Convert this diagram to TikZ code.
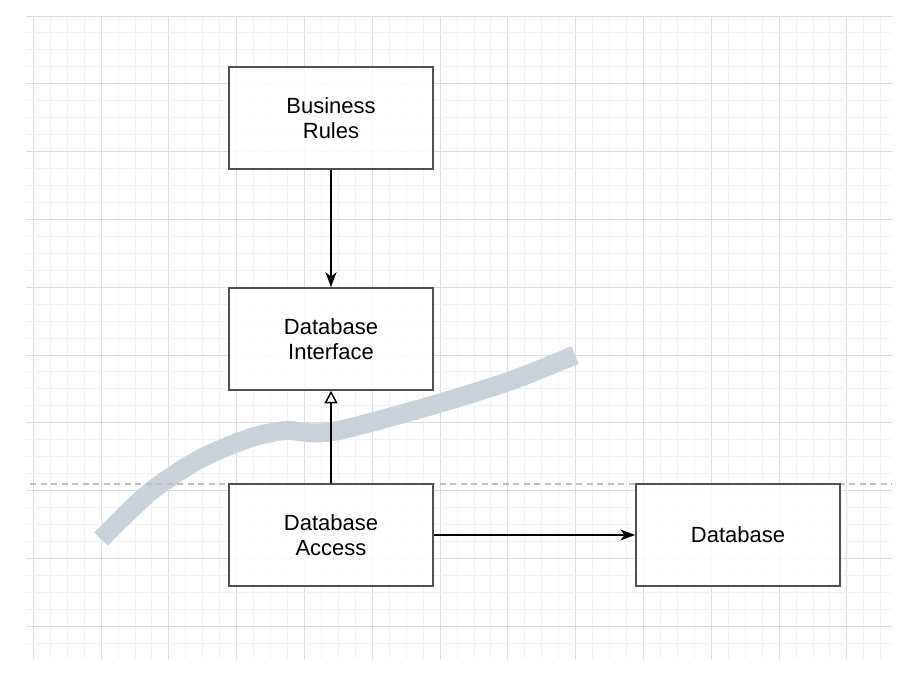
\documentclass[tikz,border=0pt]{standalone}
\usepackage{fontspec}
\setmainfont{Liberation Sans}
\usetikzlibrary{arrows.meta}
\definecolor{gridmajor}{RGB}{220,220,220}
\definecolor{gridminor}{RGB}{242,242,242}
\definecolor{boxline}{RGB}{80,80,80}
\definecolor{bandcol}{RGB}{201,209,219}
\definecolor{dashcol}{RGB}{190,190,190}
\tikzset{
  layerbox/.style={draw=boxline, line width=1.6pt, fill=white, fill opacity=0.8, text opacity=1,
    minimum width=204pt, minimum height=102pt, inner sep=0pt, align=center,
    font=\fontsize{22}{25.5}\selectfont},
  conn/.style={line width=1.5pt, black},
}
\begin{document}
\begin{tikzpicture}[x=1pt,y=-1pt]
\useasboundingbox (0,0) rectangle (916,694);
% grid
\begin{scope}
\clip (26,16) rectangle (892,659);
\foreach \i in {0,...,50}{
  \pgfmathsetmacro\xx{33.3+16.95*\i}
  \pgfmathtruncatemacro\m{mod(\i,4)}
  \ifnum\m=0
    \draw[gridmajor, line width=1pt] (\xx,16) -- (\xx,659);
  \else
    \draw[gridminor, line width=1pt] (\xx,16) -- (\xx,659);
  \fi
}
\foreach \j in {0,...,38}{
  \pgfmathsetmacro\yy{16+16.95*\j}
  \pgfmathtruncatemacro\m{mod(\j,4)}
  \ifnum\m=0
    \draw[gridmajor, line width=1pt] (26,\yy) -- (892,\yy);
  \else
    \draw[gridminor, line width=1pt] (26,\yy) -- (892,\yy);
  \fi
}
\end{scope}
% thick band
\draw[bandcol, line width=19pt, line cap=butt]
  plot[smooth, tension=0.5] coordinates {(101,539) (150,492) (200,459) (250,438) (285,430.5) (315,433) (345,429) (430,406) (510,381) (575,355)};
% dashed boundary
\coordinate (dl) at (30,484);
\coordinate (dr) at (892,484);
\draw[dashcol, line width=1.3pt, dash pattern=on 6pt off 4.5pt] (dl) -- (dr);
% boxes
\node[layerbox] (br) at (331,118) {Business\\Rules};
\node[layerbox] (di) at (331,339) {Database\\Interface};
\node[layerbox] (da) at (331,535) {Database\\Access};
\node[layerbox] (db) at (738,535) {Database};
% connectors
\draw[conn, -{Stealth[length=15pt, width=11pt, inset=4.5pt]}] (br.south) -- (di.north);
\draw[conn, -{Triangle[open, fill=white, length=12.5pt, width=13pt]}] (da.north) -- (di.south);
\draw[conn, -{Stealth[length=15pt, width=11pt, inset=4.5pt]}] (da.east) -- (db.west);
\end{tikzpicture}
\end{document}
